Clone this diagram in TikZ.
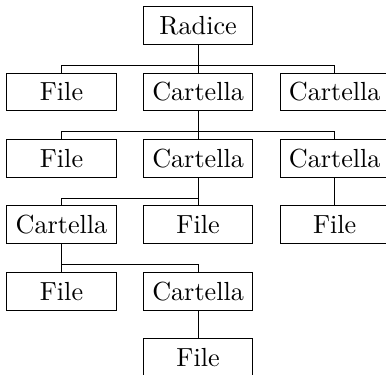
\documentclass[tikz,border=0pt]{standalone}
\usepackage{tikz}
\usetikzlibrary{positioning}
\tikzstyle{item} = [draw, rectangle, minimum width=41.7pt, minimum height=14.5pt, inner sep=0pt]
\tikzstyle{link} = [draw, thin]
\begin{document}
\begin{tikzpicture}[x=52.2pt, y=-25.4pt]
    \useasboundingbox (-23.5pt,9.75pt) rectangle (124pt,-133.4pt);
    \node[item] (root) at (1,0) {Radice};
    \node[item] (fa) at (0,1) {File};
    \node[item] (da) at (1,1) {Cartella};
    \node[item] (db) at (2,1) {Cartella};
    \node[item] (fb) at (0,2) {File};
    \node[item] (dc) at (1,2) {Cartella};
    \node[item] (dd) at (2,2) {Cartella};
    \node[item] (de) at (0,3) {Cartella};
    \node[item] (fc) at (1,3) {File};
    \node[item] (fd) at (2,3) {File};
    \node[item] (fe) at (0,4) {File};
    \node[item] (df) at (1,4) {Cartella};
    \node[item] (ff) at (1,5) {File};
    \foreach \p/\c in {root/fa, root/da, root/db, da/fb, da/dc, da/dd,
        dc/de, dc/fc, dd/fd, de/fe, de/df, df/ff}
    \draw[link] (\p.south) -- ++(0,-7.7pt) -| (\c.north);
\end{tikzpicture}
\end{document}
